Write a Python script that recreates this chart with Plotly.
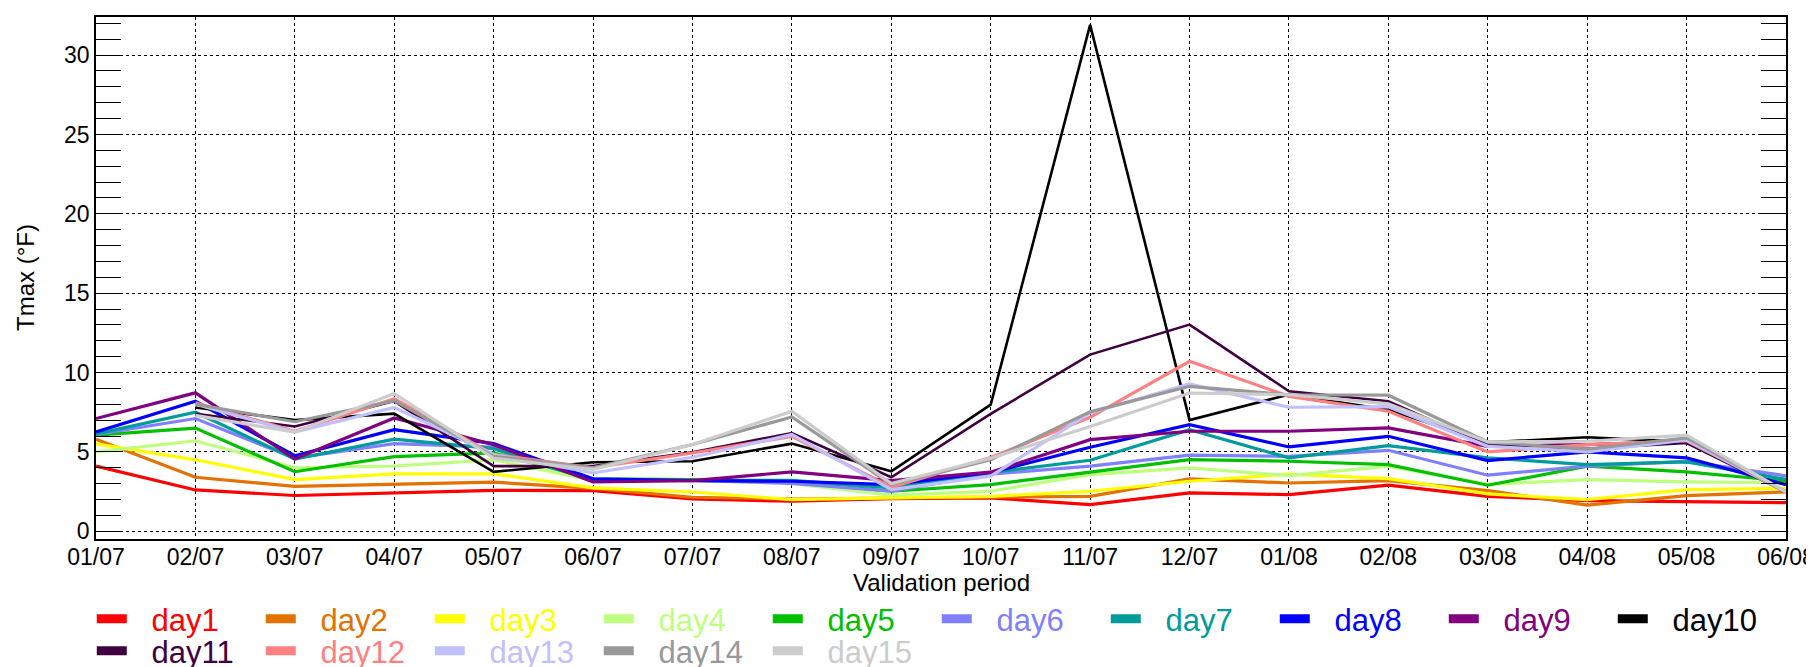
import plotly.graph_objects as go

dates = ["01/07", "02/07", "03/07", "04/07", "05/07", "06/07", "07/07", "08/07", "09/07",
         "10/07", "11/07", "12/07", "01/08", "02/08", "03/08", "04/08", "05/08", "06/08"]

day1 = [4.1, 2.6, 2.25, 2.41, 2.58, 2.56, 2.03, 1.89, 2.05, 2.1, 1.68, 2.41, 2.31, 2.9, 2.2, 1.93, 1.85, 1.8]
day2 = [5.8, 3.4, 2.83, 2.98, 3.09, 2.7, 2.14, 2.03, 2.1, 2.15, 2.2, 3.3, 3.04, 3.19, 2.56, 1.64, 2.24, 2.48]
day3 = [5.5, 4.5, 3.25, 3.61, 3.61, 2.73, 2.47, 1.99, 2.1, 2.2, 2.52, 3.15, 3.6, 3.31, 2.35, 1.99, 2.62, 2.7]
day4 = [5.0, 5.7, 4.0, 4.11, 4.5, 3.2, 3.2, 3.0, 2.27, 2.52, 3.57, 3.99, 3.5, 4.1, 2.95, 3.25, 3.11, 3.05]
day5 = [6.05, 6.5, 3.75, 4.7, 4.93, 3.3, 3.25, 3.1, 2.52, 2.94, 3.72, 4.51, 4.41, 4.2, 2.9, 4.1, 3.74, 3.16]
day6 = [6.1, 7.1, 4.6, 5.52, 5.3, 3.2, 3.2, 3.02, 2.52, 3.6, 4.1, 4.79, 4.72, 5.1, 3.53, 4.1, 4.4, 3.49]
day7 = [6.13, 7.5, 4.55, 5.8, 5.2, 3.2, 3.2, 3.21, 2.73, 3.7, 4.47, 6.4, 4.62, 5.39, 4.62, 4.2, 4.37, 3.27]
day8 = [6.26, 8.19, 4.76, 6.4, 5.52, 3.3, 3.19, 3.15, 2.94, 3.7, 5.29, 6.72, 5.31, 5.98, 4.45, 5.0, 4.62, 2.93]
day9 = [7.1, 8.72, 4.55, 7.14, 5.45, 3.1, 3.19, 3.74, 3.19, 3.72, 5.77, 6.3, 6.3, 6.51, 5.35, 5.46, 5.66, 2.48]
day10 = [None, 7.8, 7.0, 7.41, 3.74, 4.35, 4.41, 5.52, 3.78, 7.98, 31.9, 7.0, 8.61, 7.66, 5.6, 5.92, 5.63, 2.48]
day11 = [None, 7.4, 6.6, 8.2, 4.1, 4.1, 4.97, 6.19, 3.4, 7.39, 11.13, 13.02, 8.82, 8.19, 5.42, 5.2, 5.56, 2.48]
day12 = [None, 8.1, 6.3, 8.34, 4.83, 4.0, 4.93, 5.98, 2.77, 4.64, 7.18, 10.71, 8.5, 7.56, 5.0, 5.46, 5.7, 2.48]
day13 = [None, 8.0, 6.25, 7.8, 4.83, 3.67, 4.66, 6.09, 2.62, 3.47, 7.45, 9.28, 7.81, 7.85, 5.35, 5.0, 5.75, 2.48]
day14 = [None, 8.0, 6.9, 8.23, 4.72, 3.99, 5.46, 7.2, 2.94, 4.51, 7.52, 9.13, 8.6, 8.57, 5.63, 5.17, 5.88, 2.48]
day15 = [None, 7.3, 6.24, 8.67, 4.6, 3.9, 5.46, 7.56, 3.0, 4.6, 6.6, 8.71, 8.6, 8.02, 5.63, 5.67, 6.05, 2.48]

series_names = ["day1", "day2", "day3", "day4", "day5", "day6", "day7", "day8", "day9", "day10",
                "day11", "day12", "day13", "day14", "day15"]
series_values = [day1, day2, day3, day4, day5, day6, day7, day8, day9, day10,
                 day11, day12, day13, day14, day15]
colors = ["#FF0000", "#E37200", "#FFFF00", "#BFFF80", "#00C000", "#8080FF", "#009B9B", "#0000FF",
          "#800080", "#000000", "#400040", "#FF8080", "#C0C0FF", "#999999", "#CCCCCC"]

x_title = "Validation period"
y_title = "Tmax (°F)"

xidx = list(range(len(dates)))
FONT = "Liberation Sans, Arial, sans-serif"

fig = go.Figure()
for name, vals, col in zip(series_names, series_values, colors):
    w = 2.6 if name in ("day10", "day11") else 3.2
    fig.add_trace(go.Scatter(x=xidx, y=vals, mode="lines", line=dict(color=col, width=w),
                             name=name, showlegend=False, connectgaps=False))

# legend entries (thick colour bars, coloured text)
for i, (name, col) in enumerate(zip(series_names, colors)):
    fig.add_trace(go.Scatter(x=[None], y=[None], mode="lines", line=dict(color=col, width=9),
                             name="&nbsp;&nbsp;&#8202;<span style='color:%s'>%s</span>" % (col, name),
                             legend="legend" if i < 10 else "legend2", showlegend=True))

grid_common = dict(showgrid=True, gridcolor="black", gridwidth=1, griddash="3px,3px",
                   showline=True, linecolor="black", linewidth=1.5, mirror=True, zeroline=False)

leg_common = dict(orientation="h", x=-0.0025, xanchor="left", yref="paper", yanchor="middle",
                  font=dict(size=31, family=FONT), entrywidth=124, entrywidthmode="pixels",
                  itemwidth=30, bgcolor="rgba(0,0,0,0)", tracegroupgap=0)

PLOT_TOP, PLOT_BOTTOM = 9, 531
plot_h = PLOT_BOTTOM - PLOT_TOP

fig.update_layout(
    width=1814, height=667,
    margin=dict(l=88, r=36, t=PLOT_TOP, b=667 - PLOT_BOTTOM, autoexpand=False),
    paper_bgcolor="white", plot_bgcolor="white",
    font=dict(family=FONT, color="black", size=23),
    xaxis=dict(range=[0, len(dates) - 1], tickmode="array", tickvals=xidx, ticktext=dates,
               ticks="", tickfont=dict(size=23), ticklabelstandoff=-3,
               **grid_common),
    yaxis=dict(range=[-0.49, 32.4], tick0=0, dtick=5, ticks="inside", ticklen=25, tickcolor="black",
               tickwidth=1, tickfont=dict(size=23),
               minor=dict(dtick=1, tick0=0, ticks="inside", ticklen=25, tickcolor="black", tickwidth=1,
                          showgrid=False),
               **{**grid_common, "mirror": "allticks"}),
    legend=dict(y=(PLOT_BOTTOM - 611) / plot_h, **leg_common),
    legend2=dict(y=(PLOT_BOTTOM - 643) / plot_h, **leg_common),
    annotations=[
        dict(text=x_title, xref="paper", yref="paper", x=0.5, xanchor="center",
             y=(PLOT_BOTTOM - 559) / plot_h, yanchor="top", showarrow=False,
             font=dict(size=24, family=FONT, color="black")),
        dict(text=y_title, xref="paper", yref="paper", x=(17 - 88) / 1690, xanchor="center",
             y=0.5, yanchor="middle", textangle=-90, showarrow=False,
             font=dict(size=24, family=FONT, color="black")),
    ],
)

fig.write_html("out.html")
